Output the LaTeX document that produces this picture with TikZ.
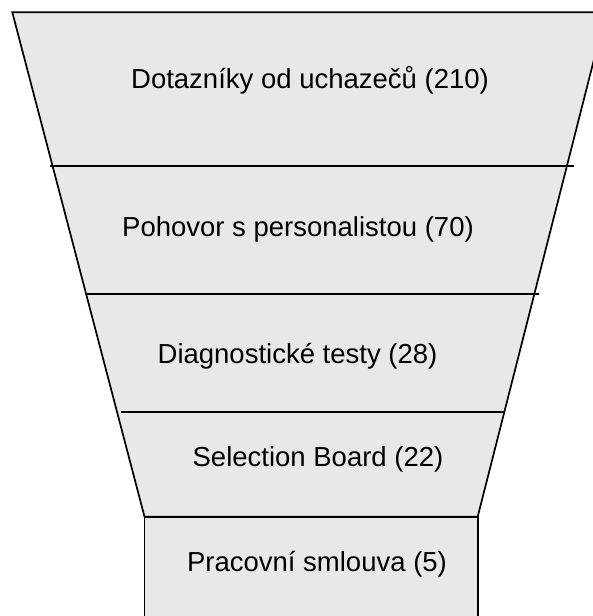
\documentclass[tikz,border=0pt]{standalone}
\usepackage{fontspec}
\setmainfont{Liberation Sans}
\usepackage{xcolor}
\usetikzlibrary{positioning, calc}
\definecolor{funnelgray}{RGB}{232,232,232}

\begin{document}
\begin{tikzpicture}[x=1pt, y=-1pt,
  stage/.style={draw, line width=1.7pt, fill=funnelgray, line join=miter},
  cut/.style={line width=1.7pt},
  stagetext/.style={font=\fontsize{27.5}{32}\selectfont, inner sep=0pt, anchor=base}]
  \useasboundingbox (0,0) rectangle (593,616);
  \clip (0,0) rectangle (593,616);
  % funnel outline
  \coordinate (tl) at (12.3,12.3);
  \coordinate (tr) at (606,12.3);
  \coordinate (bl) at (144.5,516.7);
  \coordinate (br) at (477.7,516.7);
  \draw[stage] (tl) -- (tr) -- (br) -- (bl) -- cycle;
  \draw[stage] (bl) rectangle ($(br)+(0,130)$);
  % separators
  \coordinate (s1l) at (50,165.7);   \coordinate (s1r) at (574,165.7);
  \coordinate (s2l) at (85,294);     \coordinate (s2r) at (538.7,294);
  \coordinate (s3l) at (120.7,411.7); \coordinate (s3r) at (504,411.7);
  \draw[cut] (s1l) -- (s1r);
  \draw[cut] (s2l) -- (s2r);
  \draw[cut] (s3l) -- (s3r);

  \node[stagetext] (dotazniky) at (310,88.3) {Dotazníky od uchazečů (210)};
  \node[stagetext] (pohovor) at (298,236) {Pohovor s personalistou (70)};
  \node[stagetext] (testy) at (297.5,363.3) {Diagnostické testy (28)};
  \node[stagetext] (board) at (318,466.7) {Selection Board (22)};
  \node[stagetext] (smlouva) at (317,571.7) {Pracovní smlouva (5)};
\end{tikzpicture}
\end{document}
